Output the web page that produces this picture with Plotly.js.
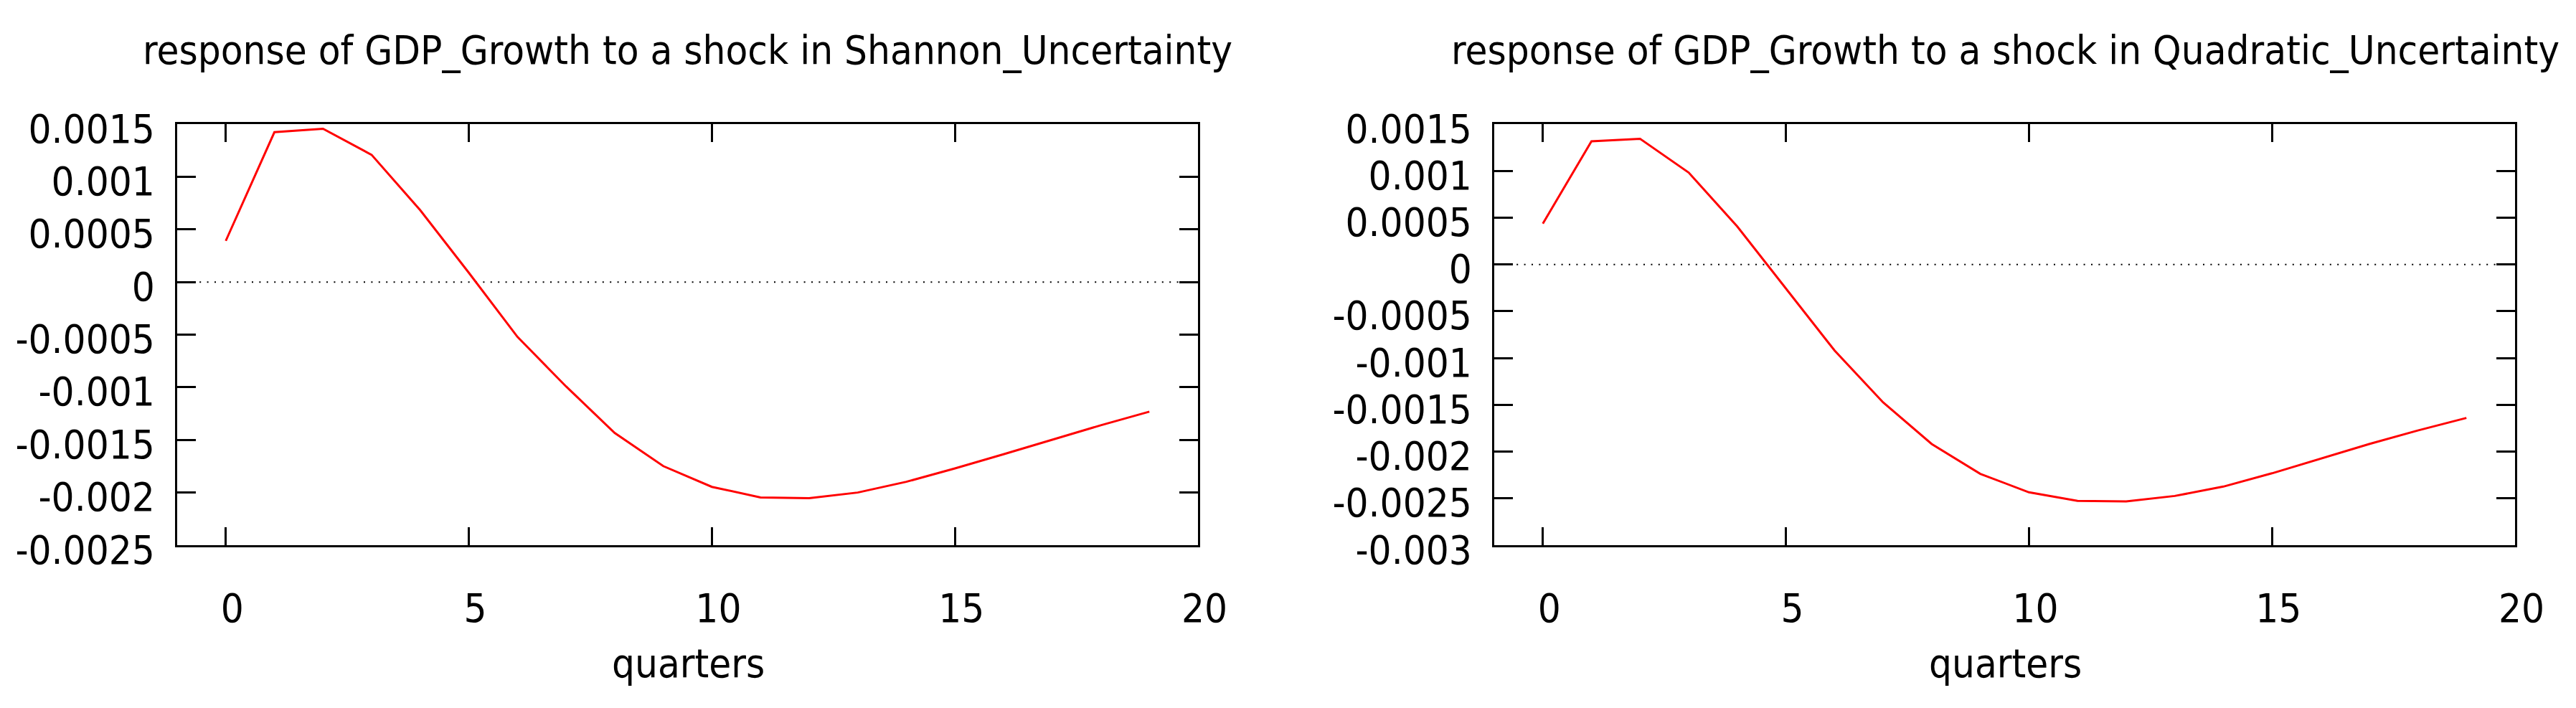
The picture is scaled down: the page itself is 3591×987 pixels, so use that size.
<!DOCTYPE html>
<html>
<head>
<meta charset="utf-8">
<script src="https://cdn.plot.ly/plotly-3.0.1.min.js"></script>
<style>
  html, body { margin: 0; padding: 0; background: #fff; }
  #chart { width: 3591px; height: 987px; }
</style>
</head>
<body>
<div id="chart"></div>
<script>
// impulse responses, horizon in quarters
const quarters = [0, 1, 2, 3, 4, 5, 6, 7, 8, 9, 10, 11, 12, 13, 14, 15, 16, 17, 18, 19];
const shannonResp = [0.000391, 0.001423, 0.001456, 0.001208, 0.000682, 0.000088, -0.000521, -0.000992,
  -0.001434, -0.001749, -0.001946, -0.002046, -0.002054, -0.002000, -0.001898, -0.001771,
  -0.001636, -0.001496, -0.001361, -0.001232];
const quadraticResp = [0.000437, 0.001316, 0.001343, 0.000982, 0.000406, -0.000258, -0.000919, -0.001474,
  -0.001919, -0.002238, -0.002435, -0.002526, -0.002532, -0.002474, -0.002374, -0.002232,
  -0.002077, -0.001919, -0.001774, -0.001640];

const xTicks = [0, 5, 10, 15, 20];
const leftYTicks = [0.0015, 0.001, 0.0005, 0, -0.0005, -0.001, -0.0015, -0.002, -0.0025];
const leftYLabels = ['0.0015', '0.001', '0.0005', '0', '-0.0005', '-0.001', '-0.0015', '-0.002', '-0.0025'];
const rightYTicks = [0.0015, 0.001, 0.0005, 0, -0.0005, -0.001, -0.0015, -0.002, -0.0025, -0.003];
const rightYLabels = ['0.0015', '0.001', '0.0005', '0', '-0.0005', '-0.001', '-0.0015', '-0.002', '-0.0025', '-0.003'];

const titles = [
  'response of GDP_Growth to a shock in Shannon_Uncertainty',
  'response of GDP_Growth to a shock in Quadratic_Uncertainty'
];

const FONT = 'DejaVu Sans Condensed, DejaVu Sans, sans-serif';
const FS = 56;
const W = 3591, H = 987;

function xAxis(domain) {
  return {
    domain: domain,
    range: [-1, 20],
    tickvals: xTicks,
    ticktext: xTicks.map(String),
    ticks: 'inside',
    ticklen: 25,
    tickwidth: 3,
    tickcolor: '#000',
    showline: true,
    linewidth: 3,
    linecolor: '#000',
    mirror: 'ticks',
    showgrid: false,
    zeroline: false,
    ticklabelstandoff: 37,
    ticklabelshift: 9,
    tickfont: { family: FONT, size: FS, color: '#000' },
    fixedrange: true
  };
}

function yAxis(range, vals, labels, anchor) {
  return {
    domain: [1 - 760 / H, 1 - 173 / H],
    anchor: anchor,
    range: range,
    tickvals: vals,
    ticktext: labels,
    ticks: 'inside',
    ticklen: 26,
    tickwidth: 3,
    tickcolor: '#000',
    showline: true,
    linewidth: 3,
    linecolor: '#000',
    mirror: 'ticks',
    showgrid: false,
    zeroline: false,
    ticklabelstandoff: 17,
    ticklabelshift: 6,
    tickfont: { family: FONT, size: FS, color: '#000' },
    fixedrange: true
  };
}

const data = [{
  x: quarters, y: shannonResp, xaxis: 'x', yaxis: 'y',
  type: 'scatter', mode: 'lines',
  line: { color: '#ff0000', width: 3 },
  hoverinfo: 'skip'
}, {
  x: quarters, y: quadraticResp, xaxis: 'x2', yaxis: 'y2',
  type: 'scatter', mode: 'lines',
  line: { color: '#ff0000', width: 3 },
  hoverinfo: 'skip'
}];

const zeroLine = (xref, yref) => ({
  type: 'line', xref: xref + ' domain', yref: yref,
  x0: 0, x1: 1, y0: 0, y1: 0,
  line: { color: '#000', width: 2, dash: '2px,8.4px' },
  layer: 'below'
});

const textAnn = (text, x, y) => ({
  text: text, xref: 'paper', yref: 'paper',
  x: x / W, y: 1 - y / H,
  xanchor: 'center', yanchor: 'middle',
  showarrow: false,
  font: { family: FONT, size: FS, color: '#000' }
});

const layout = {
  width: W,
  height: H,
  margin: { l: 0, r: 0, t: 0, b: 0 },
  paper_bgcolor: '#fff',
  plot_bgcolor: '#fff',
  showlegend: false,
  xaxis: xAxis([247 / W, 1670 / W]),
  yaxis: yAxis([-0.0025, 0.0015], leftYTicks, leftYLabels, 'x'),
  xaxis2: Object.assign(xAxis([2083 / W, 3506 / W]), { anchor: 'y2' }),
  yaxis2: yAxis([-0.003, 0.0015], rightYTicks, rightYLabels, 'x2'),
  shapes: [zeroLine('x', 'y'), zeroLine('x2', 'y2')],
  annotations: [
    textAnn(titles[0], 958, 70),
    textAnn(titles[1], 2795, 70),
    textAnn('quarters', 959, 924),
    textAnn('quarters', 2795, 924)
  ]
};

Plotly.newPlot('chart', data, layout, { staticPlot: true, displayModeBar: false });
</script>
</body>
</html>
